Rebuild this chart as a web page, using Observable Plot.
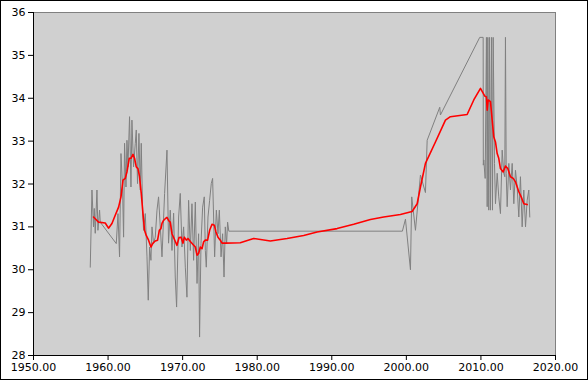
<!DOCTYPE html>
<html>
<head>
<meta charset="utf-8">
<script src="https://cdn.jsdelivr.net/npm/d3@7"></script>
<script src="https://cdn.jsdelivr.net/npm/@observablehq/plot@0.6"></script>
<style>
  html, body { margin: 0; padding: 0; background: #fff; }
  #wrap { position: relative; width: 588px; height: 380px; }
  #border { position: absolute; left: 0; top: 0; width: 588px; height: 380px; box-sizing: border-box; border: 1px solid #000; pointer-events: none; }
  svg { display: block; }
</style>
</head>
<body>
<div id="wrap"><div id="chart"></div><div id="border"></div></div>
<script>
// Raw series (gray)
const grayYear = [
  1957.61, 1957.84, 1958.05, 1958.15, 1958.28, 1958.51, 1958.64, 1958.86, 1958.95,
  1961.10, 1961.33, 1961.54, 1961.73, 1961.94, 1962.08, 1962.21, 1962.40, 1962.53, 1962.67, 1962.88,
  1963.07, 1963.20, 1963.42, 1963.65, 1963.78, 1963.95, 1964.14, 1964.32, 1964.45, 1964.63, 1964.76,
  1964.99, 1965.22, 1965.39, 1965.57, 1965.75, 1965.89, 1966.10, 1966.33, 1966.56, 1966.77,
  1967.23, 1967.58, 1967.90, 1968.11, 1968.34, 1968.57, 1968.79, 1969.01, 1969.19, 1969.46, 1969.68,
  1969.91, 1970.13, 1970.36, 1970.58, 1970.80, 1971.03, 1971.25, 1971.47, 1971.70, 1971.93, 1972.14,
  1972.27, 1972.46, 1972.68, 1972.90, 1973.04, 1973.17, 1973.40, 1973.62, 1973.84, 1974.02, 1974.29,
  1974.52, 1974.74, 1974.92, 1975.15, 1975.36, 1975.55, 1975.72, 1975.90, 1976.03, 1976.19,
  1999.47, 1999.88, 2000.55, 2000.72, 2001.22, 2001.89, 2002.56, 2002.79, 2004.48, 2004.57,
  2009.84, 2010.30, 2010.32, 2010.38, 2010.57, 2010.74, 2010.84, 2010.92, 2011.05, 2011.14, 2011.28,
  2011.41, 2011.55, 2011.64, 2011.82, 2011.95, 2012.18, 2012.39, 2012.62, 2012.85, 2013.06, 2013.20,
  2013.29, 2013.39, 2013.52, 2013.74, 2013.96, 2014.19, 2014.41, 2014.63, 2014.86, 2015.08, 2015.30,
  2015.53, 2015.75, 2015.98, 2016.20, 2016.42, 2016.55
];
const grayValue = [
  30.06, 31.86, 31.00, 31.43, 30.85, 31.86, 30.92, 31.39, 31.11,
  30.61, 31.31, 30.30, 32.71, 31.93, 30.76, 32.95, 31.93, 33.02, 32.40, 33.57,
  31.93, 33.49, 32.40, 32.95, 33.26, 32.01, 33.18, 31.86, 32.95, 31.39, 30.92,
  31.31, 30.30, 29.29, 30.53, 30.22, 31.00, 30.61, 30.76, 31.39, 31.70,
  30.30, 31.78, 32.79, 30.62, 31.39, 30.45, 31.32, 29.83, 29.13, 31.23, 31.78,
  30.53, 31.00, 30.06, 29.36, 31.62, 30.45, 31.54, 30.22, 31.58, 29.68, 30.84,
  28.43, 30.61, 31.46, 31.70, 30.45, 30.06, 31.23, 31.62, 32.01, 32.13, 30.30,
  31.39, 30.84, 31.39, 30.30, 30.84, 29.83, 31.00, 30.61, 31.11, 30.90,
  30.90, 31.18, 30.00, 31.70, 30.92, 32.21, 31.80, 33.02, 33.79, 33.61,
  35.42, 35.42, 32.44, 32.56, 32.13, 35.42, 31.47, 35.42, 31.39, 35.42, 31.39,
  35.42, 31.39, 35.42, 32.48, 31.54, 32.25, 31.70, 31.31, 32.79, 32.25, 32.17,
  35.42, 32.25, 31.47, 32.48, 31.86, 32.48, 31.54, 32.32, 31.93, 31.23, 32.17,
  31.00, 31.86, 31.00, 31.62, 31.86, 31.23
];
// Smoothed series (red)
const redYear = [
  1958.05, 1958.28, 1958.72, 1959.62, 1960.06, 1960.52, 1960.96, 1961.41, 1961.73, 1962.00,
  1962.30, 1962.53, 1962.84, 1963.07, 1963.34, 1963.55, 1963.78, 1964.01, 1964.22, 1964.45,
  1964.68, 1964.89, 1965.12, 1965.43, 1965.75, 1966.02, 1966.33, 1966.64, 1966.87, 1967.09,
  1967.23, 1967.44, 1967.67, 1967.90, 1968.11, 1968.34, 1968.57, 1968.92, 1969.24, 1969.51,
  1969.78, 1970.05, 1970.22, 1970.49, 1970.72, 1971.03, 1971.39, 1971.70, 1971.93, 1972.14,
  1972.37, 1972.60, 1972.81, 1973.04, 1973.35, 1973.62, 1973.94, 1974.25, 1974.47, 1974.74,
  1975.05, 1975.28, 1975.72, 1977.73, 1979.52, 1981.76, 1984.00, 1986.23, 1988.03, 1990.71,
  1992.94, 1995.18, 1996.96, 1999.20, 2000.77, 2001.45, 2001.89, 2002.56, 2003.90, 2005.24,
  2005.91, 2008.15, 2009.04, 2009.94, 2010.52, 2010.74, 2010.84, 2010.97, 2011.28, 2011.51,
  2011.72, 2011.95, 2012.18, 2012.39, 2012.62, 2012.98, 2013.29, 2013.60, 2013.96, 2014.33,
  2014.63, 2015.08, 2015.40, 2015.75, 2016.20
];
const redValue = [
  31.23, 31.19, 31.11, 31.09, 30.97, 31.08, 31.27, 31.46, 31.70, 32.09,
  32.13, 32.28, 32.60, 32.60, 32.69, 32.60, 32.40, 32.36, 32.17, 31.78,
  31.31, 30.92, 30.80, 30.69, 30.53, 30.62, 30.67, 30.69, 30.92, 30.96,
  31.08, 31.15, 31.19, 31.22, 31.15, 31.11, 30.84, 30.70, 30.57, 30.75,
  30.76, 30.62, 30.76, 30.69, 30.73, 30.66, 30.59, 30.53, 30.34, 30.38,
  30.53, 30.49, 30.65, 30.69, 30.69, 30.92, 31.06, 31.04, 30.88, 30.76,
  30.69, 30.62, 30.62, 30.63, 30.73, 30.67, 30.73, 30.80, 30.88, 30.96,
  31.06, 31.17, 31.23, 31.29, 31.36, 31.54, 31.93, 32.48, 32.98, 33.49,
  33.57, 33.62, 33.96, 34.23, 34.05, 34.03, 33.72, 33.96, 33.92, 33.49,
  33.10, 32.98, 32.71, 32.60, 32.36, 32.28, 32.42, 32.36, 32.17, 32.13,
  32.05, 31.82, 31.70, 31.54, 31.52
];
const xTicks = [1950, 1960, 1970, 1980, 1990, 2000, 2010, 2020];
const yTicks = [28, 29, 30, 31, 32, 33, 34, 35, 36];

const gray = grayYear.map((x, i) => ({x, y: grayValue[i]}));
const red = redYear.map((x, i) => ({x, y: redValue[i]}));

const chart = Plot.plot({
  width: 588,
  height: 380,
  marginLeft: 33,
  marginRight: 33,
  marginTop: 12,
  marginBottom: 25,
  style: {fontFamily: "DejaVu Sans", fontSize: "11px", color: "#000", background: "#fff"},
  x: {domain: [1950, 2020], label: null},
  y: {domain: [28, 36], label: null},
  marks: [
    Plot.frame({fill: "#d0d0d0", stroke: "#808080"}),
    Plot.line(gray, {x: "x", y: "y", stroke: "#808080", strokeWidth: 1}),
    Plot.line(red, {x: "x", y: "y", stroke: "#ff0000", strokeWidth: 1.6}),
    Plot.ruleY([28], {stroke: "#000"}),
    Plot.ruleX([1950], {stroke: "#000"}),
    Plot.axisX({ticks: xTicks, tickFormat: d => d.toFixed(2), tickSize: 5, tickPadding: 3, label: null, fontSize: 11}),
    Plot.axisY({ticks: yTicks, tickFormat: d => String(d), tickSize: 5, tickPadding: 3, label: null, fontSize: 11})
  ]
});
document.getElementById("chart").appendChild(chart);
</script>
</body>
</html>
